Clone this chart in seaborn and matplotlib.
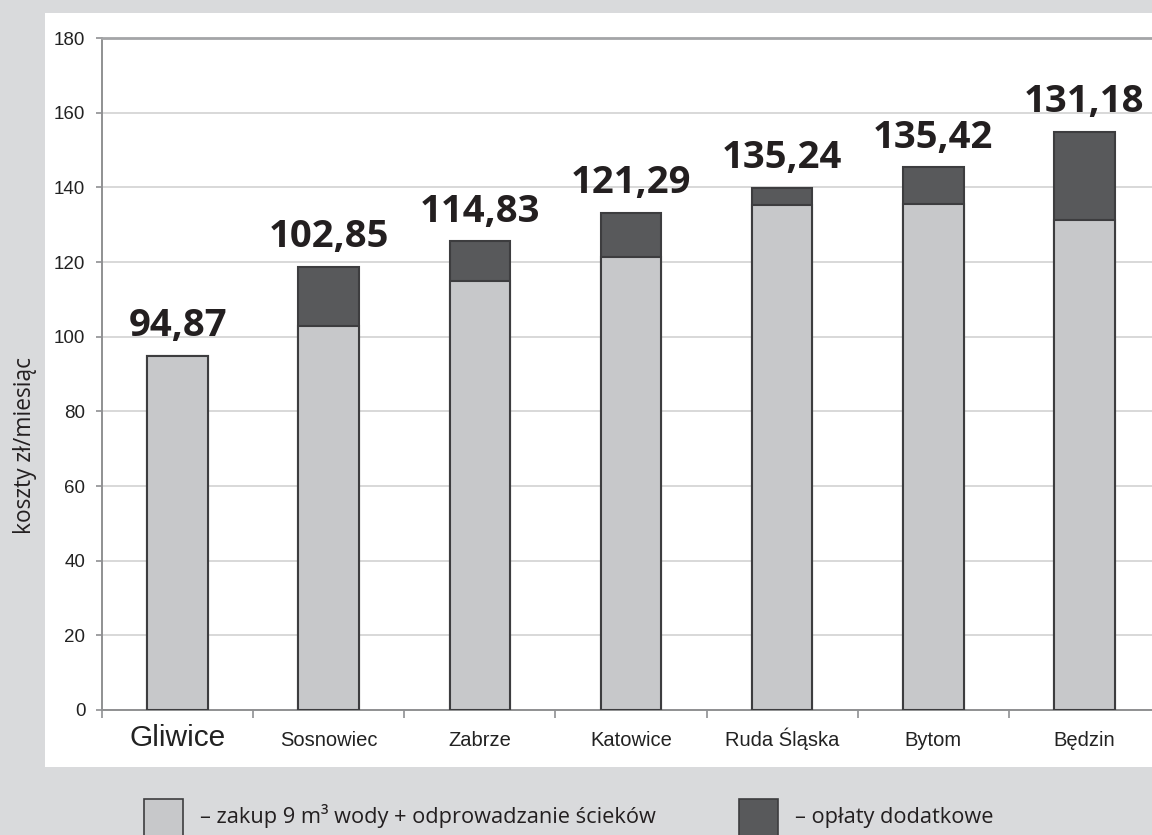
import matplotlib
matplotlib.use("Agg")
import matplotlib.pyplot as plt
from matplotlib.patches import Rectangle
from matplotlib.ticker import FixedLocator
import seaborn as sns
import pandas as pd

# ---- data ----
cities = ["Gliwice", "Sosnowiec", "Zabrze", "Katowice", "Ruda Śląska", "Bytom", "Będzin"]
base_cost = [94.87, 102.85, 114.83, 121.29, 135.24, 135.42, 131.18]
extra_fees = [0.0, 15.85, 10.67, 11.9, 4.66, 9.9, 23.7]
value_labels = ["94,87", "102,85", "114,83", "121,29", "135,24", "135,42", "131,18"]
y_ticks = [0, 20, 40, 60, 80, 100, 120, 140, 160, 180]
y_label = "koszty zł/miesiąc"
legend_labels = ["– zakup 9 m³ wody + odprowadzanie ścieków", "– opłaty dodatkowe"]

df = pd.DataFrame({"city": cities, "base": base_cost, "extra": extra_fees})
df["total"] = df["base"] + df["extra"]

BG = "#d9dadc"
LIGHT = "#c7c8ca"
DARK = "#58595b"
EDGE = "#3d3d3f"
TEXT = "#231f20"

sns.set_theme(style="white")
plt.rcParams["font.family"] = ["Liberation Sans", "DejaVu Sans"]

fig = plt.figure(figsize=(11.52, 8.35), dpi=100, facecolor=BG)

# white panel
fig.patches.append(Rectangle((45 / 1152, 1 - 767 / 835), 1.2, (767 - 13) / 835,
                             transform=fig.transFigure, facecolor="white",
                             edgecolor="none", zorder=-10))

ax = fig.add_axes([102 / 1152, 1 - 710 / 835, 1058 / 1152, 672 / 835])
ax.set_zorder(1)
ax.set_facecolor("white")

sns.barplot(data=df, x="city", y="total", color=DARK, saturation=1, width=0.4,
            edgecolor=EDGE, linewidth=1.5, ax=ax, zorder=3)
sns.barplot(data=df, x="city", y="base", color=LIGHT, saturation=1, width=0.4,
            edgecolor=EDGE, linewidth=1.5, ax=ax, zorder=3)

ax.set_ylim(0, 180)
ax.set_xlim(-0.5, len(cities) - 0.5)
ax.set_yticks(y_ticks)
ax.yaxis.grid(True, color="#d6d6d6", linewidth=1.3, zorder=0)
ax.xaxis.grid(False)
ax.set_axisbelow(True)

for side in ["left", "bottom", "top"]:
    ax.spines[side].set_visible(True)
    ax.spines[side].set_color("#8f9092")
    ax.spines[side].set_linewidth(1.4)
ax.spines["right"].set_visible(False)
ax.spines["top"].set_color("#a4a5a7")
ax.spines["top"].set_linewidth(2.0)

ax.tick_params(axis="y", left=True, length=4, width=1.2, color="#8f9092",
               pad=8, labelsize=13.5, labelcolor="#222222")
ax.tick_params(axis="x", which="major", bottom=False, length=0, pad=26,
               labelsize=14.5, labelcolor="#222222")
ax.xaxis.set_minor_locator(FixedLocator([i - 0.5 for i in range(len(cities) + 1)]))
ax.tick_params(axis="x", which="minor", bottom=True, length=6, width=1.2,
               color="#8f9092")
ax.set_xlabel("")
ax.set_ylabel("")

for lab in ax.get_xticklabels():
    lab.set_verticalalignment("baseline")
    if lab.get_text() == "Gliwice":
        lab.set_fontsize(21.5)

# value labels above stacks
for i, row in df.iterrows():
    ax.annotate(value_labels[i], xy=(i, row["total"]), xytext=(0, 14),
                textcoords="offset points", ha="center", va="baseline",
                fontsize=27.5, fontweight="bold", color=TEXT,
                family=["Open Sans", "DejaVu Sans"], zorder=5,
                annotation_clip=False)

fig.text(25 / 1152, 1 - 445 / 835, y_label, rotation=90, ha="center", va="center",
         fontsize=16.4, color=TEXT, family=["Open Sans", "DejaVu Sans"])

# legend
for x0, col, lab in [(144, LIGHT, legend_labels[0]), (739, DARK, legend_labels[1])]:
    fig.patches.append(Rectangle((x0 / 1152, 1 - 840 / 835), 39 / 1152, 41 / 835,
                                 transform=fig.transFigure, facecolor=col,
                                 edgecolor=EDGE, linewidth=1.2, zorder=2))
    fig.text((x0 + 56) / 1152, 1 - 823 / 835, lab, ha="left", va="baseline",
             fontsize=15.7, color=TEXT, family=["Open Sans", "DejaVu Sans"])

fig.savefig("out.png", dpi=100, facecolor=BG)
